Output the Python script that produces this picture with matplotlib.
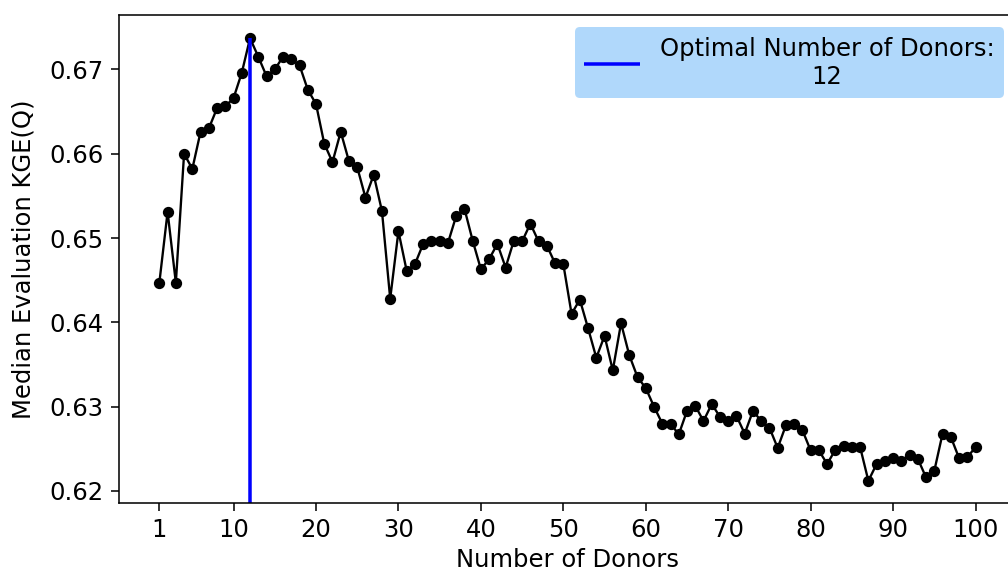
import numpy as np
import matplotlib
matplotlib.use("Agg")
import matplotlib.pyplot as plt

# number of donors and median evaluation KGE(Q)
donors = np.arange(1, 101)
kge = np.array([
    0.6447, 0.6531, 0.6447, 0.6600, 0.6582, 0.6626, 0.6630, 0.6654, 0.6656, 0.6666,
    0.6696, 0.6737, 0.6715, 0.6692, 0.6700, 0.6715, 0.6712, 0.6705, 0.6676, 0.6659,
    0.6612, 0.6590, 0.6626, 0.6591, 0.6584, 0.6548, 0.6575, 0.6532, 0.6428, 0.6508,
    0.6461, 0.6469, 0.6493, 0.6496, 0.6496, 0.6494, 0.6526, 0.6535, 0.6497, 0.6463,
    0.6475, 0.6493, 0.6465, 0.6497, 0.6496, 0.6517, 0.6496, 0.6491, 0.6470, 0.6469,
    0.6410, 0.6427, 0.6393, 0.6358, 0.6384, 0.6343, 0.6399, 0.6361, 0.6335, 0.6322,
    0.6300, 0.6280, 0.6280, 0.6267, 0.6295, 0.6301, 0.6283, 0.6303, 0.6288, 0.6283,
    0.6289, 0.6268, 0.6295, 0.6283, 0.6275, 0.6251, 0.6278, 0.6280, 0.6272, 0.6248,
    0.6248, 0.6232, 0.6249, 0.6253, 0.6252, 0.6252, 0.6212, 0.6232, 0.6236, 0.6239,
    0.6236, 0.6243, 0.6238, 0.6216, 0.6224, 0.6268, 0.6264, 0.6239, 0.6240, 0.6252,
])
xtick_vals = [1, 10, 20, 30, 40, 50, 60, 70, 80, 90, 100]

best = donors[np.argmax(kge)]

plt.rcParams['font.size'] = 12.5
plt.rcParams['xtick.major.size'] = 4.2
plt.rcParams['ytick.major.size'] = 4.2

fig = plt.figure(figsize=(7.2, 573 / 140), dpi=140)
ax = fig.add_axes([0.1176, 0.1222, 0.8907, 0.8517])

ax.plot(donors, kge, 'k-', marker='o', markersize=4.8, linewidth=1.2)
ymin = ax.get_ylim()[0]
ax.vlines(best, ymin, kge.max(), color='blue', linewidth=1.8,
          label='Optimal Number of Donors:\n' + str(best))
ax.set_ylim(bottom=ymin)

ax.set_xticks(xtick_vals)
ax.set_xlabel('Number of Donors', labelpad=3)
ax.set_ylabel('Median Evaluation KGE(Q)', labelpad=7)

leg = ax.legend(loc='upper right', facecolor='#b0d8fb', edgecolor='none',
                framealpha=1, handlelength=2.3, handletextpad=0.8)
for t in leg.get_texts():
    t.set_multialignment('center')

fig.savefig('out.png', dpi=140)
